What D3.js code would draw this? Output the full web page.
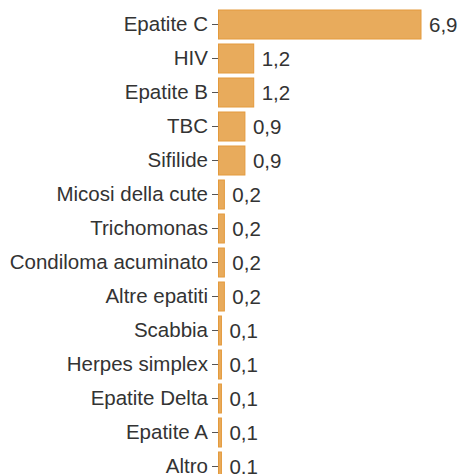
<!DOCTYPE html>
<html>
<head>
<meta charset="utf-8">
<script src="https://cdn.jsdelivr.net/npm/d3@7"></script>
<style>
  html, body { margin: 0; padding: 0; background: #fff; overflow: hidden; }
  svg { display: block; }
  .tick text { font-family: "Liberation Sans", Arial, Helvetica, sans-serif; }
</style>
</head>
<body>
<div id="chart"></div>
<script>
// Disease categories and their values (percent)
const categories = [
  "Epatite C", "HIV", "Epatite B", "TBC", "Sifilide",
  "Micosi della cute", "Trichomonas", "Condiloma acuminato", "Altre epatiti ",
  "Scabbia", "Herpes simplex", "Epatite Delta", "Epatite A", "Altro"
];
const values = [6.9, 1.2, 1.2, 0.9, 0.9, 0.2, 0.2, 0.2, 0.2, 0.1, 0.1, 0.1, 0.1, 0.1];

const W = 460, H = 474;
const plotLeft = 218.5, plotRight = 421;
const plotTop = 7.5, rowStep = 34;
const fontSize = "20.5px";

const svg = d3.select("#chart").append("svg")
  .attr("width", W).attr("height", H);

const x = d3.scaleLinear().domain([0, d3.max(values)]).range([plotLeft, plotRight]);
const y = d3.scaleBand()
  .domain(categories)
  .range([plotTop, plotTop + rowStep * categories.length])
  .paddingInner(5 / 34)
  .paddingOuter(2.5 / 34);

const data = categories.map((c, i) => ({ c, v: values[i] }));
const fmt = v => d3.format(".1f")(v).replace(".", ",");

// Bars
svg.append("g").selectAll("rect").data(data).join("rect")
  .attr("x", x(0))
  .attr("y", d => y(d.c))
  .attr("width", d => x(d.v) - x(0))
  .attr("height", y.bandwidth())
  .attr("fill", "#e8ab5c")
  .attr("stroke", "#e49a3c")
  .attr("stroke-width", 1);

// Category axis
const axis = svg.append("g")
  .attr("transform", `translate(${plotLeft - 0.5},0)`)
  .call(d3.axisLeft(y).tickSize(6).tickPadding(4));
axis.select(".domain").remove();
axis.selectAll(".tick line").attr("stroke", "#555");
axis.selectAll(".tick text")
  .attr("fill", "#333")
  .style("font-size", fontSize);

// Value labels
svg.append("g").selectAll("text").data(data).join("text")
  .attr("x", d => x(d.v) + 8)
  .attr("y", d => y(d.c) + y.bandwidth() / 2)
  .attr("dy", "0.35em")
  .attr("fill", "#333")
  .style("font-family", '"Liberation Sans", Arial, Helvetica, sans-serif')
  .style("font-size", fontSize)
  .text(d => fmt(d.v));
</script>
</body>
</html>
